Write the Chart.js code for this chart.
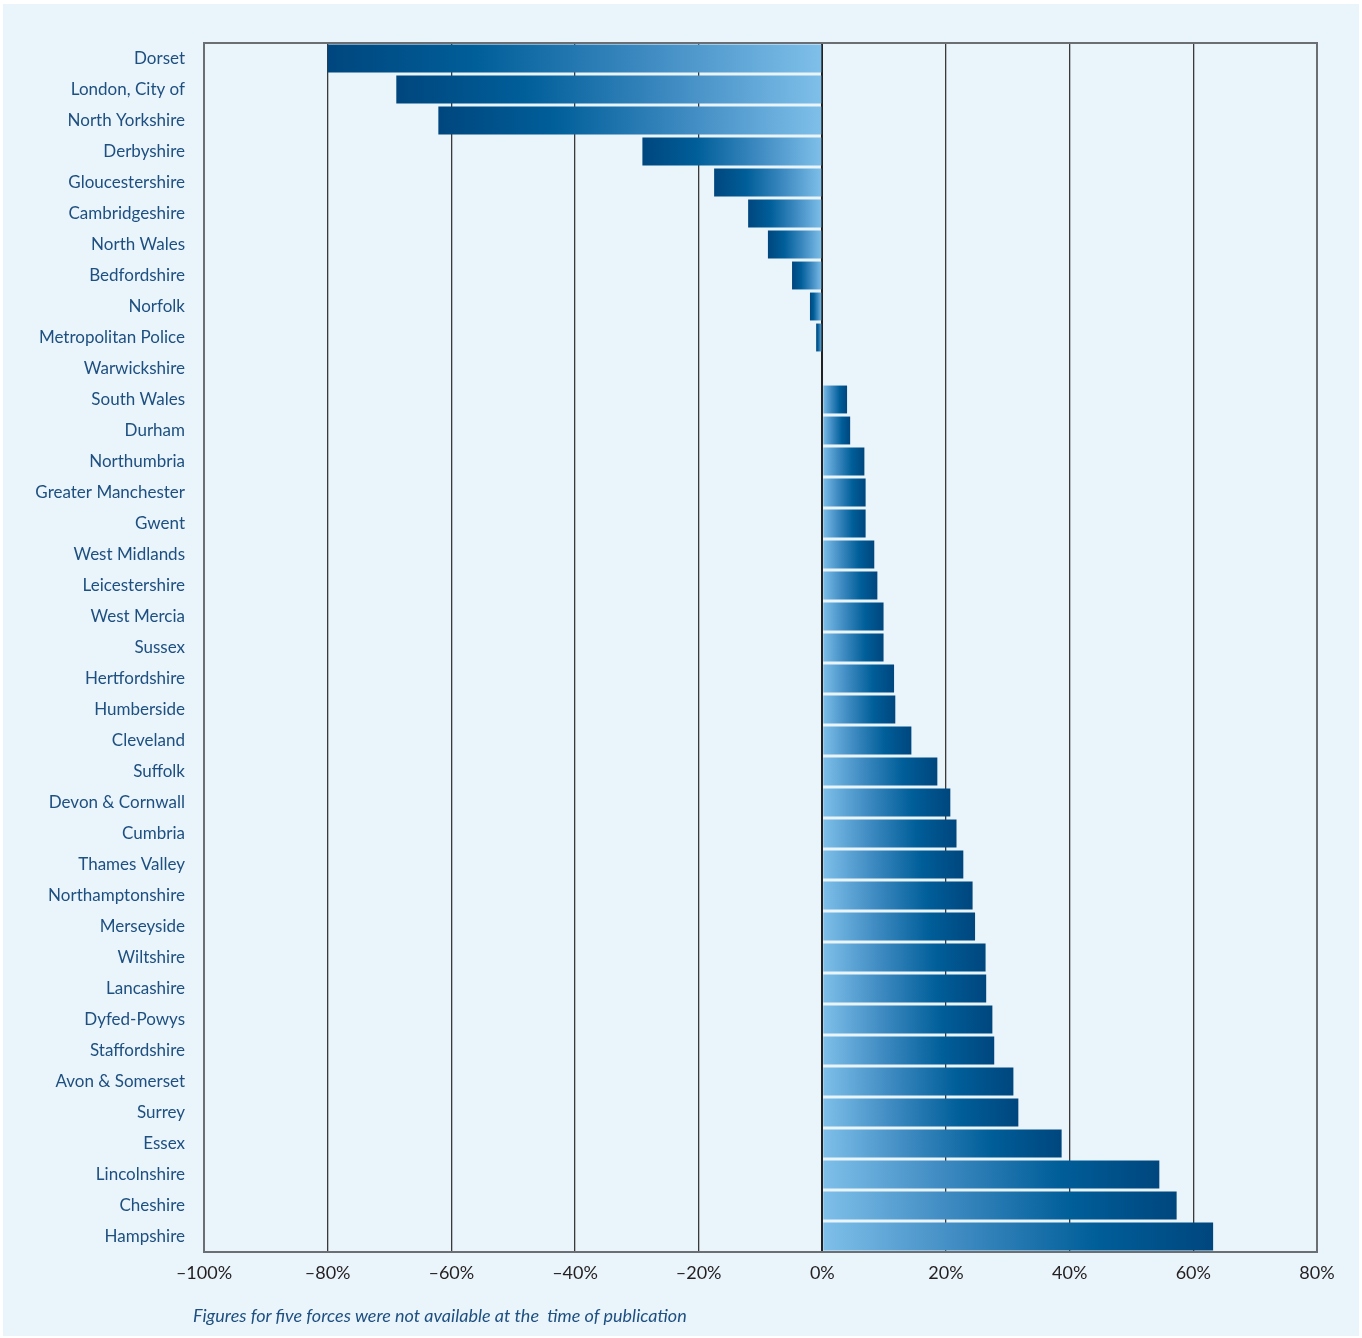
<!DOCTYPE html>
<html lang="en">
  <head>
    <meta charset="UTF-8" />
    <title>Police forces change</title>
    <script src="https://cdn.jsdelivr.net/npm/chart.js@4.4.1/dist/chart.umd.min.js"></script>
    <style>
      html, body { margin: 0; padding: 0; background: #ffffff; }
      #wrap {
        position: absolute; left: 3px; top: 4px;
        width: 1356px; height: 1332px;
        background: #eaf4fb;
      }
      #note {
        position: absolute; left: 190px; top: 1300px;
        font-family: Lato, "Open Sans", sans-serif;
        font-style: italic; font-size: 18px; color: #1d4f80;
      }
    </style>
  </head>
  <body>
    <div id="wrap">
      <canvas id="chart" width="1356" height="1332"></canvas>
      <div id="note">Figures for five forces were not available at the&nbsp; time of publication</div>
    </div>
    <script>
      const forces = [
        "Dorset", "London, City of", "North Yorkshire", "Derbyshire", "Gloucestershire",
        "Cambridgeshire", "North Wales", "Bedfordshire", "Norfolk", "Metropolitan Police",
        "Warwickshire", "South Wales", "Durham", "Northumbria", "Greater Manchester",
        "Gwent", "West Midlands", "Leicestershire", "West Mercia", "Sussex",
        "Hertfordshire", "Humberside", "Cleveland", "Suffolk", "Devon & Cornwall",
        "Cumbria", "Thames Valley", "Northamptonshire", "Merseyside", "Wiltshire",
        "Lancashire", "Dyfed-Powys", "Staffordshire", "Avon & Somerset", "Surrey",
        "Essex", "Lincolnshire", "Cheshire", "Hampshire"
      ];
      const change = [
        -80, -68.9, -62.1, -29.1, -17.5,
        -12.0, -8.8, -4.9, -2.0, -1.0,
        0, 4.0, 4.5, 6.8, 7.0,
        7.0, 8.4, 8.9, 9.9, 9.9,
        11.6, 11.8, 14.4, 18.6, 20.7,
        21.7, 22.8, 24.3, 24.7, 26.4,
        26.5, 27.5, 27.8, 30.9, 31.7,
        38.7, 54.5, 57.3, 63.2
      ];
      const xMin = -100, xMax = 80, xStep = 20;

      // gradient runs from light at zero to dark at the bar end
      function barFill(ctx) {
        const chart = ctx.chart;
        if (!chart.chartArea || ctx.dataIndex === undefined) return "#2f7fb5";
        const v = ctx.raw;
        const xs = chart.scales.x;
        const x0 = xs.getPixelForValue(0);
        const x1 = xs.getPixelForValue(v);
        if (Math.abs(x1 - x0) < 1) return "#2f7fb5";
        const g = chart.ctx.createLinearGradient(x0, 0, x1, 0);
        g.addColorStop(0, "#7fc0ea");
        g.addColorStop(0.35, "#3f8bc2");
        g.addColorStop(0.7, "#005e99");
        g.addColorStop(1, "#00467e");
        return g;
      }

      const frame = {
        id: "frame",
        afterDraw(chart) {
          const { ctx, chartArea: a } = chart;
          ctx.save();
          ctx.strokeStyle = "#6b6e72";
          ctx.lineWidth = 2;
          ctx.strokeRect(a.left, a.top, a.right - a.left, a.bottom - a.top);
          ctx.restore();
        }
      };

      new Chart(document.getElementById("chart"), {
        type: "bar",
        data: {
          labels: forces,
          datasets: [{
            data: change,
            backgroundColor: barFill,
            borderWidth: 0,
            barPercentage: 0.9,
            categoryPercentage: 1.0
          }]
        },
        options: {
          indexAxis: "y",
          responsive: false,
          animation: false,
          layout: { padding: { top: 39, right: 42, left: 0, bottom: 0 } },
          plugins: { legend: { display: false }, tooltip: { enabled: false } },
          scales: {
            x: {
              min: xMin, max: xMax,
              ticks: {
                stepSize: xStep,
                color: "#231f20",
                font: { family: "Lato, 'Open Sans', sans-serif", size: 18 },
                padding: 10,
                callback: (v) => (v < 0 ? "\u2013" + Math.abs(v) : v) + "%"
              },
              grid: {
                color: (c) => (c.tick && c.tick.value === 0 ? "#222222" : "#3a3a3a"),
                lineWidth: (c) => (c.tick && c.tick.value === 0 ? 2 : 1.3),
                drawTicks: false
              },
              border: { display: true, color: "#6b6e72", width: 2 },
              afterFit: (s) => { s.height = 84; }
            },
            y: {
              ticks: {
                color: "#1d4f80",
                font: { family: "Lato, 'Open Sans', sans-serif", size: 17 },
                padding: 19,
                autoSkip: false
              },
              grid: { display: false, drawTicks: false },
              border: { display: true, color: "#6b6e72", width: 2 },
              afterFit: (s) => { s.width = 201; }
            }
          }
        },
        plugins: [frame]
      });
    </script>
  </body>
</html>
